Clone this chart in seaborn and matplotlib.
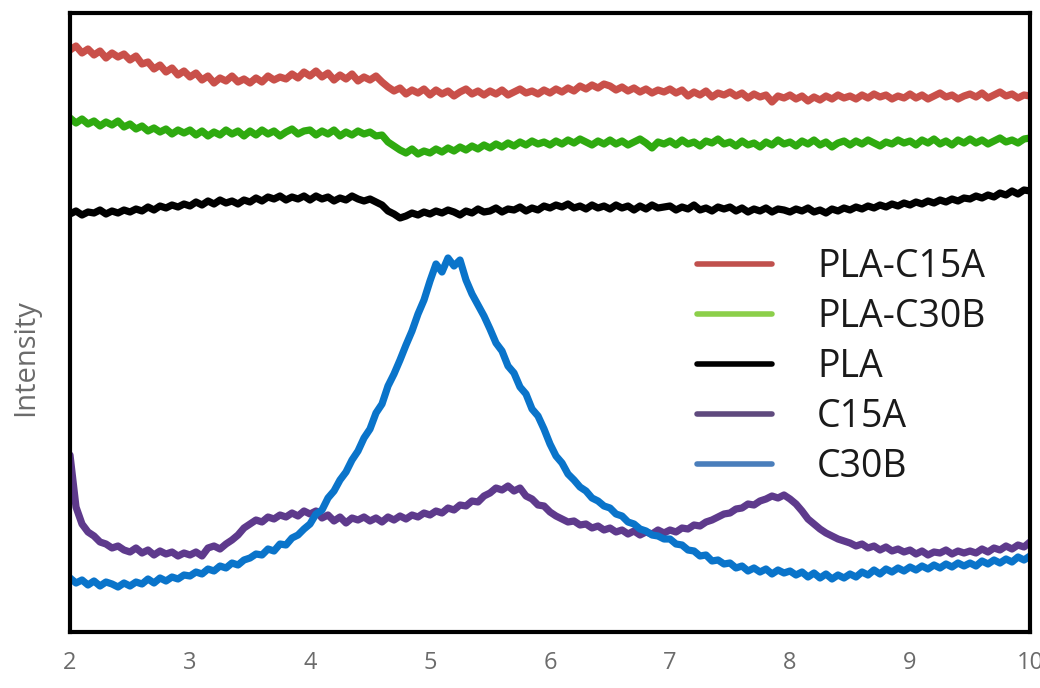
import numpy as np
import pandas as pd
import matplotlib
matplotlib.use("Agg")
import matplotlib.pyplot as plt
from matplotlib.lines import Line2D
import seaborn as sns

# 2-theta scan grid (degrees), step 0.05
two_theta = np.linspace(2.0, 10.0, 161)

# Intensities (arbitrary units, traces stacked for display)
pla_c15a = [
    582, 586, 579, 583, 577, 581, 574, 579, 575, 578,
    572, 576, 568, 570, 563, 567, 560, 564, 557, 561,
    555, 559, 552, 556, 549, 554, 551, 556, 550, 553,
    549, 554, 550, 556, 552, 555, 553, 558, 554, 560,
    556, 561, 555, 559, 552, 557, 553, 558, 551, 555,
    552, 556, 550, 545, 541, 544, 538, 542, 539, 543,
    537, 542, 538, 541, 536, 540, 543, 538, 541, 537,
    541, 538, 542, 537, 540, 543, 539, 541, 538, 542,
    539, 543, 540, 544, 541, 546, 543, 547, 544, 548,
    546, 542, 545, 541, 544, 540, 543, 539, 542, 540,
    543, 539, 542, 536, 540, 537, 541, 535, 539, 537,
    540, 536, 539, 534, 538, 535, 537, 530, 536, 534,
    537, 533, 536, 531, 535, 532, 536, 533, 537, 534,
    536, 533, 537, 534, 538, 535, 537, 533, 536, 534,
    538, 534, 537, 533, 536, 539, 535, 537, 533, 536,
    538, 535, 539, 534, 537, 540, 536, 538, 534, 537,
    536,
]

pla_c30b = [
    514, 509, 513, 508, 511, 506, 510, 507, 511, 505,
    508, 503, 506, 501, 504, 500, 503, 498, 502, 499,
    502, 497, 501, 496, 500, 497, 502, 498, 501, 496,
    501, 497, 502, 498, 501, 496, 500, 503, 498, 501,
    502, 497, 501, 498, 502, 496, 500, 497, 501, 498,
    500, 496, 497, 490, 486, 482, 479, 483, 478, 481,
    479, 483, 480, 484, 481, 485, 482, 486, 483, 487,
    484, 488, 485, 489, 486, 490, 487, 491, 488, 490,
    487, 491, 488, 492, 489, 493, 490, 487, 491, 488,
    492, 488, 491, 487, 490, 493, 489, 484, 490, 488,
    491, 487, 492, 488, 490, 486, 491, 489, 493, 488,
    490, 486, 491, 487, 489, 485, 490, 487, 492, 488,
    490, 486, 491, 488, 492, 487, 490, 485, 489, 491,
    487, 491, 488, 492, 489, 486, 490, 488, 492, 489,
    491, 487, 492, 489, 493, 488, 491, 487, 492, 489,
    493, 489, 492, 488, 491, 494, 490, 492, 489, 493,
    494,
]

pla = [
    418, 421, 417, 420, 419, 422, 418, 421, 419, 422,
    420, 423, 421, 425, 422, 426, 424, 427, 425, 428,
    426, 430, 427, 431, 428, 432, 429, 431, 428, 432,
    430, 434, 431, 435, 433, 436, 432, 435, 433, 436,
    432, 436, 433, 435, 431, 434, 432, 436, 433, 431,
    433, 430, 427, 421, 418, 414, 416, 419, 417, 420,
    418, 421, 419, 422, 420, 417, 421, 419, 423, 420,
    421, 424, 420, 423, 422, 425, 421, 424, 422, 426,
    424, 427, 425, 428, 424, 426, 423, 427, 424, 426,
    423, 427, 424, 426, 422, 426, 423, 427, 424, 425,
    426, 422, 425, 423, 427, 422, 424, 421, 425, 423,
    425, 421, 424, 420, 423, 421, 424, 420, 423, 422,
    420, 423, 421, 424, 420, 422, 419, 423, 421, 424,
    422, 425, 423, 426, 424, 427, 425, 428, 426, 429,
    427, 430, 428, 431, 429, 432, 430, 433, 431, 434,
    433, 436, 434, 437, 435, 439, 437, 441, 438, 442,
    441,
]

c15a = [
    177, 125, 108, 100, 96, 90, 88, 84, 86, 82,
    80, 84, 79, 82, 77, 81, 78, 80, 76, 79,
    77, 80, 76, 84, 86, 83, 88, 92, 97, 104,
    108, 112, 110, 115, 113, 117, 115, 119, 116, 121,
    118, 121, 114, 117, 111, 115, 109, 114, 112, 115,
    111, 114, 110, 115, 112, 116, 113, 117, 115, 119,
    117, 121, 119, 124, 122, 127, 126, 131, 130, 136,
    139, 144, 142, 146, 141, 144, 136, 133, 127, 126,
    120, 116, 113, 110, 111, 107, 108, 104, 106, 102,
    104, 100, 102, 98, 101, 97, 100, 98, 102, 99,
    102, 100, 104, 103, 107, 106, 110, 112, 115, 118,
    119, 123, 124, 128, 127, 131, 133, 136, 134, 137,
    133, 128, 121, 113, 108, 103, 99, 96, 93, 91,
    89, 86, 88, 84, 86, 82, 85, 81, 83, 80,
    82, 78, 81, 77, 80, 79, 82, 78, 81, 79,
    81, 79, 83, 80, 84, 82, 86, 83, 87, 85,
    90,
]

c30b = [
    54, 49, 52, 47, 51, 46, 50, 48, 45, 49,
    46, 50, 48, 53, 49, 54, 51, 55, 53, 57,
    56, 60, 58, 63, 61, 66, 64, 69, 67, 72,
    74, 78, 77, 83, 81, 88, 87, 94, 97, 103,
    108, 118, 122, 134, 141, 152, 160, 172, 181, 194,
    203, 219, 228, 246, 258, 272, 287, 301, 318, 332,
    351, 368, 360, 374, 366, 372, 352, 338, 327, 316,
    303, 289, 281, 266, 259, 245, 238, 223, 216, 203,
    188, 176, 169, 158, 152, 145, 141, 134, 131, 126,
    124, 118, 116, 110, 108, 103, 101, 97, 96, 93,
    93, 88, 87, 82, 81, 76, 77, 71, 72, 68,
    69, 64, 66, 61, 64, 60, 63, 58, 62, 59,
    61, 57, 60, 55, 59, 54, 58, 53, 57, 54,
    58, 55, 60, 57, 62, 58, 63, 60, 64, 61,
    65, 62, 66, 63, 67, 64, 68, 65, 69, 66,
    69, 66, 71, 68, 72, 69, 73, 70, 75, 72,
    76,
]

series_names = ["PLA-C15A", "PLA-C30B", "PLA", "C15A", "C30B"]
series_values = [pla_c15a, pla_c30b, pla, c15a, c30b]
line_colors = ["#C9504A", "#2FAA10", "#000000", "#5E3A8C", "#0A74CA"]
legend_colors = ["#C0504D", "#8CCF4A", "#000000", "#5F4A7E", "#4A7EBB"]
x_ticks = [2, 3, 4, 5, 6, 7, 8, 9, 10]

frames = [
    pd.DataFrame({"two_theta": two_theta, "intensity": vals, "sample": name})
    for name, vals in zip(series_names, series_values)
]
df = pd.concat(frames, ignore_index=True)

sns.set_theme(style="white")
plt.rcParams["font.family"] = ["Open Sans", "DejaVu Sans"]

fig = plt.figure(figsize=(10.4, 6.88), dpi=100)
ax = fig.add_axes([70 / 1040, 1 - 632 / 688, 960 / 1040, 619 / 688])

sns.lineplot(
    data=df, x="two_theta", y="intensity", hue="sample",
    hue_order=series_names, palette=dict(zip(series_names, line_colors)),
    linewidth=5.2, legend=False, ax=ax, sort=False,
)

ax.set_xlim(2, 10)
ax.set_ylim(0, 619)
ax.set_xticks(x_ticks)
ax.set_xticklabels([str(t) for t in x_ticks])
ax.set_yticks([])
ax.set_xlabel("")
ax.set_ylabel("Intensity", fontsize=21, color="#6b6b6b")
ax.yaxis.set_label_coords(-0.031, (632 - 358) / 619)
ax.tick_params(axis="x", length=0, pad=14, labelsize=17, labelcolor="#6b6b6b")

for spine in ax.spines.values():
    spine.set_visible(True)
    spine.set_color("black")
    spine.set_linewidth(3)

handles = [Line2D([], [], color=c, linewidth=4) for c in legend_colors]
ax.legend(
    handles, series_names, loc="upper left",
    bbox_to_anchor=((697 - 70) / 960, (632 - 248) / 619),
    frameon=False, fontsize=27, borderpad=0, borderaxespad=0,
    handlelength=2.0, handletextpad=1.2, labelspacing=0.32,
    labelcolor="#1a1a1a",
)

fig.savefig("out.png", dpi=100)
